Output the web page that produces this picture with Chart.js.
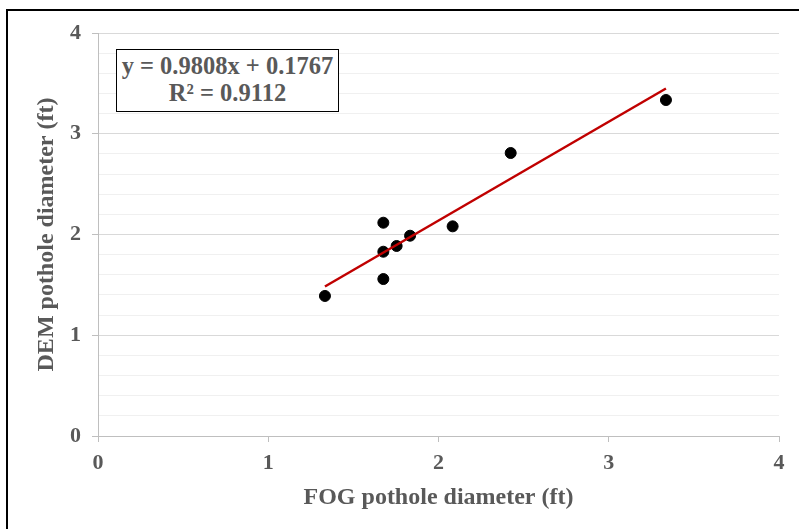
<!DOCTYPE html>
<html>
<head>
<meta charset="utf-8">
<script src="https://cdn.jsdelivr.net/npm/chart.js@4/dist/chart.umd.min.js"></script>
<style>
  html, body { margin: 0; padding: 0; background: #fff; overflow: hidden; }
  #wrap { position: relative; width: 799px; height: 529px; overflow: hidden; }
  #frame { position: absolute; left: 6px; top: 9px; width: 900px; height: 700px; border: 2px solid #000; box-sizing: border-box; pointer-events: none; }
  #eq { position: absolute; left: 116px; top: 49px; width: 223px; height: 63px; box-sizing: border-box;
        border: 1.5px solid #000; background: #fff; color: #595959;
        font-family: "Liberation Serif", "Times New Roman", serif; font-weight: bold; font-size: 24.5px;
        line-height: 27px; text-align: center; padding-top: 2px; white-space: nowrap; }
  canvas { position: absolute; left: 0; top: 0; }
</style>
</head>
<body>
<div id="wrap">
  <canvas id="c" width="799" height="529"></canvas>
  <div id="eq">y = 0.9808x + 0.1767<br>R² = 0.9112</div>
  <div id="frame"></div>
</div>
<script>
const fogDiameter = [1.333, 1.676, 1.676, 1.676, 1.754, 1.833, 2.083, 2.424, 3.336];
const demDiameter = [1.39, 1.558, 1.829, 2.117, 1.886, 1.988, 2.081, 2.809, 3.335];
const trendX = [1.333, 3.336];
const trendY = [1.484, 3.449];
const xTicks = [0, 1, 2, 3, 4];
const yTicks = [0, 1, 2, 3, 4];
const xTitle = 'FOG pothole diameter (ft)';
const yTitle = 'DEM pothole diameter (ft)';

const FONT = '"Liberation Serif", "Times New Roman", serif';
const GREY = '#595959';

const points = fogDiameter.map((x, i) => ({ x: x, y: demDiameter[i] }));
const trend = trendX.map((x, i) => ({ x: x, y: trendY[i] }));
const isMajor = v => Math.abs(v - Math.round(v)) < 1e-6;

new Chart(document.getElementById('c'), {
  type: 'scatter',
  data: {
    datasets: [
      { type: 'line', data: trend, borderColor: '#c00000', borderWidth: 2.5, pointRadius: 0, fill: false, order: 0 },
      { type: 'scatter', data: points, backgroundColor: '#000', borderColor: '#000', pointRadius: 5.5, pointHoverRadius: 5.5, order: 1 }
    ]
  },
  options: {
    responsive: false,
    animation: false,
    events: [],
    layout: { padding: { top: 33, right: 20, left: 0, bottom: 0 } },
    plugins: { legend: { display: false }, tooltip: { enabled: false } },
    scales: {
      x: {
        type: 'linear', min: xTicks[0], max: xTicks[xTicks.length - 1],
        afterBuildTicks: s => { s.ticks = xTicks.map(v => ({ value: v })); },
        afterFit: s => { s.height = 93; },
        border: { color: '#bfbfbf', width: 1 },
        grid: { drawOnChartArea: false, tickColor: '#bfbfbf', tickLength: 6, lineWidth: 1 },
        ticks: { color: GREY, font: { family: FONT, size: 22, weight: 'bold' }, padding: 8, maxRotation: 0 },
        title: { display: true, text: xTitle, color: GREY, font: { family: FONT, size: 24, weight: 'bold' }, padding: { top: 0, bottom: 17 } }
      },
      y: {
        type: 'linear', min: yTicks[0], max: yTicks[yTicks.length - 1],
        afterBuildTicks: s => {
          const t = [];
          for (let i = 0; i <= 20; i++) t.push({ value: Math.round(i * 0.2 * 10) / 10 });
          s.ticks = t;
        },
        afterFit: s => { s.width = 98; },
        border: { color: '#bfbfbf', width: 1 },
        grid: {
          color: c => isMajor(c.tick.value) ? '#d9d9d9' : '#f0f0f0',
          tickColor: c => isMajor(c.tick.value) ? '#bfbfbf' : 'rgba(0,0,0,0)',
          tickLength: 6, lineWidth: 1
        },
        ticks: {
          color: GREY, font: { family: FONT, size: 22, weight: 'bold' }, padding: 11,
          autoSkip: false,
          callback: v => yTicks.includes(v) ? String(v) : ''
        },
        title: { display: true, text: yTitle, color: GREY, font: { family: FONT, size: 24, weight: 'bold' }, padding: { top: 32, bottom: 0 } }
      }
    }
  }
});
</script>
</body>
</html>
